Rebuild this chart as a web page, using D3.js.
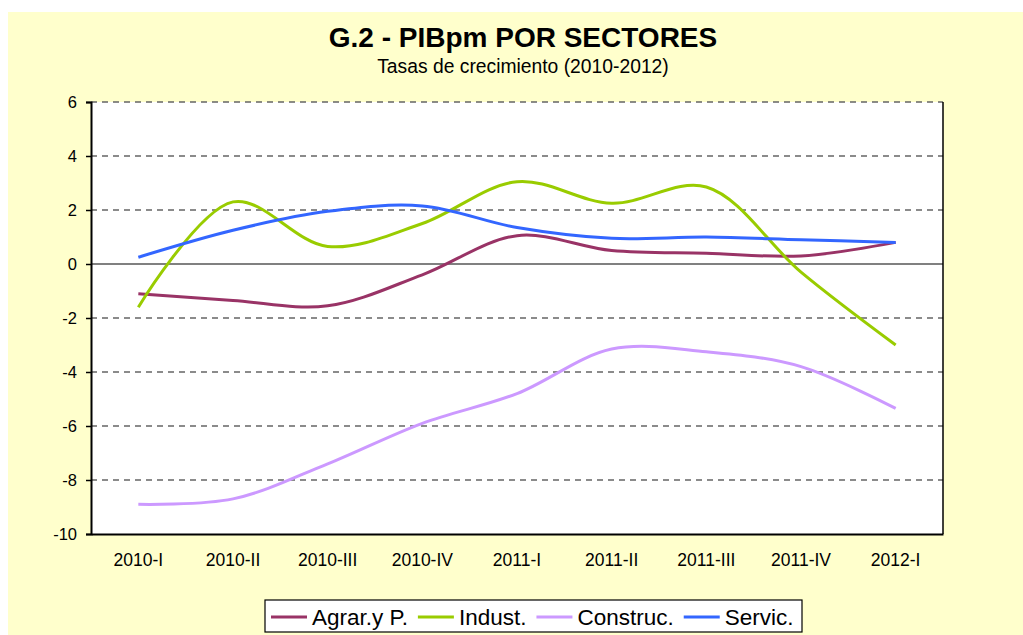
<!DOCTYPE html>
<html><head><meta charset="utf-8">
<script src="https://cdn.jsdelivr.net/npm/d3@7"></script>
<style>body{margin:0;background:#fff}svg{display:block}</style>
</head><body>
<script>
const categories = ["2010-I","2010-II","2010-III","2010-IV","2011-I","2011-II","2011-III","2011-IV","2012-I"];
const agrar    = [-1.1, -1.35, -1.55, -0.4, 1.05, 0.5, 0.4, 0.3, 0.8];
const indust   = [-1.6, 2.3, 0.65, 1.5, 3.05, 2.25, 2.85, -0.3, -3.0];
const construc = [-8.9, -8.7, -7.4, -5.9, -4.8, -3.15, -3.25, -3.8, -5.35];
const servic   = [0.25, 1.25, 1.95, 2.15, 1.35, 0.95, 1.0, 0.9, 0.8];
const seriesNames = ["Agrar.y P.","Indust.","Construc.","Servic."];
const yTicks = [-10,-8,-6,-4,-2,0,2,4,6];
const colors = ["#993366","#99CC00","#CC99FF","#3366FF"];
const seriesData = [agrar, indust, construc, servic];

(function(){
const FF = "Liberation Sans, Arial, sans-serif";
const W = 1023, H = 635;
const svg = d3.select("body").append("svg").attr("width", W).attr("height", H);
svg.append("rect").attr("x",8).attr("y",12).attr("width",W-8).attr("height",H-12).attr("fill","#FFFFCC");

const pL = 91, pR = 943, pT = 102, pB = 534;
const x = d3.scaleBand().domain(categories).range([pL, pR]);
const y = d3.scaleLinear().domain([-10, 6]).range([pB, pT]);

svg.append("rect").attr("x",pL).attr("y",pT).attr("width",pR-pL).attr("height",pB-pT).attr("fill","#fff");

svg.append("g").selectAll("line").data(yTicks.filter(d=>d!==0 && d!==-10)).join("line")
  .attr("x1",pL).attr("x2",pR).attr("y1",d=>y(d)).attr("y2",d=>y(d))
  .attr("stroke","#666").attr("stroke-width",1.4).attr("stroke-dasharray","6,5");
svg.append("line").attr("x1",pL).attr("x2",pR).attr("y1",y(0)).attr("y2",y(0))
  .attr("stroke","#808080").attr("stroke-width",2);
svg.append("line").attr("x1",pR).attr("x2",pR).attr("y1",pT).attr("y2",pB).attr("stroke","#000").attr("stroke-width",1.5);

const yAxis = d3.axisLeft(y).tickValues(yTicks).tickSize(5).tickPadding(9).tickFormat(d=>String(d));
const gy = svg.append("g").attr("transform",`translate(${pL},0)`).call(yAxis);
gy.select(".domain").attr("stroke","#000").attr("stroke-width",2);
gy.selectAll(".tick line").attr("stroke","#000").attr("stroke-width",1.5);
gy.selectAll("text").attr("font-family",FF).attr("font-size",16.5).attr("fill","#000");
const xAxis = d3.axisBottom(x).tickSize(0).tickPadding(20);
const gx = svg.append("g").attr("transform",`translate(0,${pB})`).call(xAxis);
gx.select(".domain").attr("stroke","#000").attr("stroke-width",2);
gx.selectAll("text").attr("font-family",FF).attr("font-size",17.5).attr("fill","#000");

const line = d3.line().x((d,i)=>x(categories[i])+x.bandwidth()/2).y(d=>y(d)).curve(d3.curveCatmullRom.alpha(0.5));
seriesData.forEach((s,k)=>{
  svg.append("path").datum(s).attr("d",line).attr("fill","none").attr("stroke",colors[k]).attr("stroke-width",3);
});

svg.append("text").attr("x",523).attr("y",47).attr("text-anchor","middle")
  .attr("font-family",FF).attr("font-size",28).attr("font-weight","bold").text("G.2 - PIBpm POR SECTORES");
svg.append("text").attr("x",523).attr("y",73).attr("text-anchor","middle")
  .attr("font-family",FF).attr("font-size",19.3).text("Tasas de crecimiento (2010-2012)");

const lg = svg.append("g");
lg.append("rect").attr("x",265).attr("y",600).attr("width",537).attr("height",32).attr("fill","#fff").attr("stroke","#000").attr("stroke-width",1.2);
let cx = 271;
seriesNames.forEach((n,k)=>{
  lg.append("line").attr("x1",cx).attr("x2",cx+36).attr("y1",617).attr("y2",617).attr("stroke",colors[k]).attr("stroke-width",3);
  const t = lg.append("text").attr("x",cx+41).attr("y",625).attr("font-family",FF).attr("font-size",22.5).text(n);
  cx = cx + 41 + t.node().getComputedTextLength() + 10;
});
})();
</script>
</body></html>
